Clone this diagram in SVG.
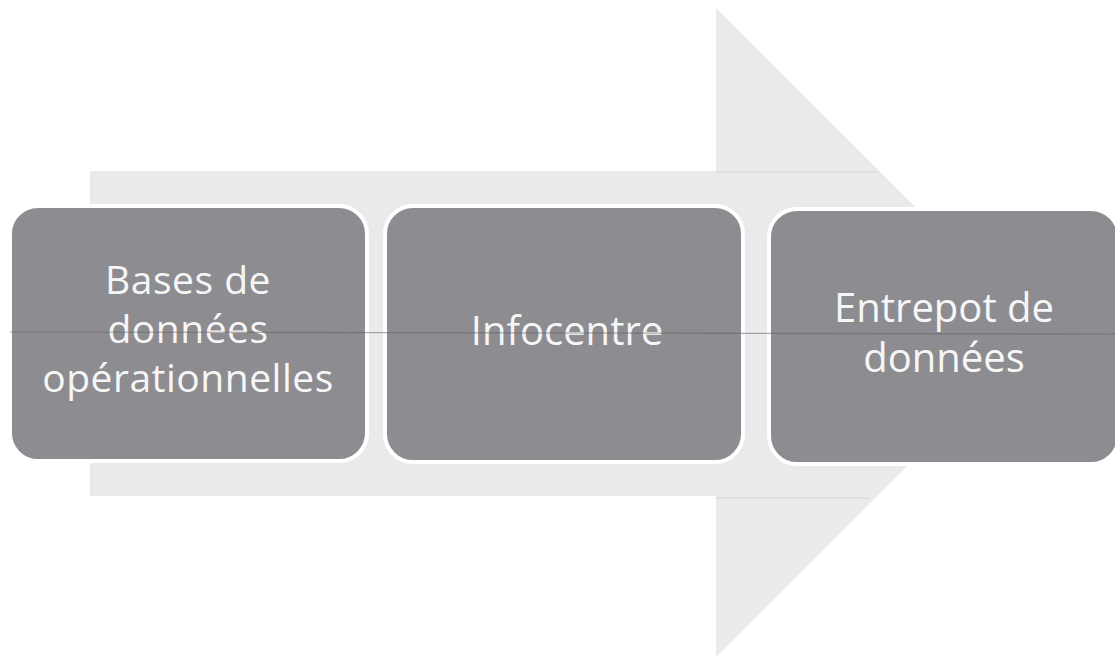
<svg xmlns="http://www.w3.org/2000/svg" width="1115" height="658" viewBox="0 0 1115 658">
<style>
.box{fill:#8d8c90;stroke:#ffffff;stroke-width:4}
.t{font-family:"Open Sans","Liberation Sans",sans-serif;fill:#f6f6f6;text-anchor:middle;font-size:40px}
.t1{font-size:39px;letter-spacing:0.5px}
.fold{stroke:#5f5f63;stroke-width:1.2;opacity:0.5}
</style>
<rect width="1115" height="658" fill="#ffffff"/>
<g id="arrow">
<polygon points="90,171 716,171 716,8 1041,332 716,657 716,496 90,496" fill="#e9eaec"/>
<line x1="716" y1="172" x2="876" y2="172" stroke="#d4d5d8" stroke-width="1"/>
<line x1="716" y1="498" x2="870" y2="498" stroke="#d4d5d8" stroke-width="1"/>
</g>
<g id="connectors"></g>
<g id="node1">
<rect class="box" x="10" y="206" width="357" height="255" rx="28"/>
<text class="t t1" x="188" y="294"><tspan x="188" y="294">Bases de</tspan><tspan x="188" y="343">données</tspan><tspan x="188" y="392">opérationnelles</tspan></text>
</g>
<g id="node2">
<rect class="box" x="385" y="206" width="358" height="256" rx="28"/>
<text class="t" x="567" y="345">Infocentre</text>
</g>
<g id="node3">
<rect class="box" x="769" y="209" width="350" height="255" rx="28"/>
<text class="t" x="944" y="322"><tspan x="944" y="322">Entrepot de</tspan><tspan x="944" y="372">données</tspan></text>
</g>
<line class="fold" x1="10" y1="332" x2="1115" y2="334"/>
</svg>
